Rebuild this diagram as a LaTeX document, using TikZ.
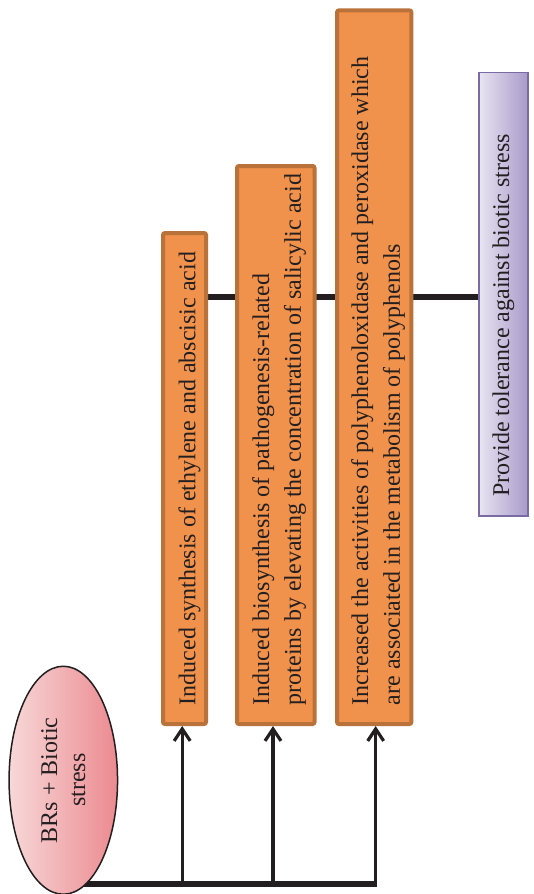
\documentclass[tikz,border=0pt]{standalone}
\usepackage{fontspec}
\setmainfont{Liberation Serif}
\usepackage{graphicx}
\usetikzlibrary{arrows.meta,shapes.geometric,backgrounds}

\definecolor{boxfill}{HTML}{F0924C}
\definecolor{boxedge}{HTML}{B8723A}
\definecolor{ink}{HTML}{231F20}
\definecolor{pinkL}{HTML}{F7D8D8}
\definecolor{pinkR}{HTML}{EC8A90}
\definecolor{lilacL}{HTML}{E8E4F1}
\definecolor{lilacR}{HTML}{A99ACA}
\definecolor{lilacEdge}{HTML}{7A6BA5}

% rotated, left-aligned text block: offset, line length, text
\newcommand{\uptext}[3]{\hspace{#1}\rotatebox{90}{\parbox{#2}{\raggedright #3}}}

\tikzset{
  effect/.style={draw=boxedge, line width=4pt, fill=boxfill, rounded corners=2pt,
    inner sep=0pt, font=\fontsize{24}{31.7}\selectfont, text=ink},
  outcome/.style={draw=lilacEdge, line width=1.6pt, left color=lilacL, right color=lilacR,
    inner xsep=13.4pt, inner ysep=0pt, font=\fontsize{24}{31.7}\selectfont, text=ink},
  cause/.style={ellipse, draw=ink, line width=1.5pt, left color=pinkL, right color=pinkR,
    inner sep=0pt, font=\fontsize{24}{28}\selectfont, text=ink},
  trunk/.style={draw=ink, line width=5.6pt},
  bar/.style={draw=ink, line width=5.8pt},
  branch/.style={draw=ink, line width=3.2pt, -{Straight Barb[length=12pt,width=16pt]}},
}

\begin{document}
\begin{tikzpicture}[x=1pt,y=1pt]
\useasboundingbox (0,0) rectangle (533,-894);
\clip (0,0) rectangle (533,-894);

% source of the stress response
\node[cause, minimum width=108.5pt, minimum height=228pt] (src) at (63.3,-780.25)
  {\rotatebox{90}{\parbox{130pt}{\centering BRs + Biotic\\stress}}};

% responses
\node[effect, minimum width=43pt, minimum height=491pt] (b1) at (184.5,-478.5)
  {\uptext{10.2pt}{453pt}{\mbox{Induced synthesis of ethylene and abscisic acid}}};
\node[effect, minimum width=77.5pt, minimum height=558pt] (b2) at (275.75,-445)
  {\uptext{6.6pt}{520pt}{\mbox{Induced biosynthesis of pathogenesis-related}\\\mbox{proteins by elevating the concentration of salicylic acid}}};
\node[effect, minimum width=74.3pt, minimum height=713.7pt] (b3) at (374.2,-367.2)
  {\uptext{7.7pt}{675.6pt}{\mbox{Increased the activities of polyphenoloxidase and peroxidase which}\\\mbox{are associated in the metabolism of polyphenols}}};

% result
\node[outcome, anchor=west, minimum height=443.4pt] (tol) at (478.3,-294.2)
  {\rotatebox{90}{\parbox{405pt}{\raggedright\mbox{Provide tolerance against biotic stress}}}\hspace{40pt}};

% branching points on the trunk and the level of the linking bar
\coordinate (a1) at (182.2,-884.2);
\coordinate (a2) at (273,-884.2);
\coordinate (a3) at (375.7,-884.2);
\coordinate (lv) at (0,-297.2);

\begin{pgfonlayer}{background}
  \draw[trunk] (src.center |- a3) -- (a3);
  \draw[bar] (b1.center |- lv) -- (b2.center |- lv);
  \draw[bar] (b2.center |- lv) -- (b3.center |- lv);
  \draw[bar] (b3.center |- lv) -- (tol.center |- lv);
\end{pgfonlayer}

\draw[branch] (a1) -- (a1 |- b1.south);
\draw[branch] (a2) -- (a2 |- b2.south);
\draw[branch] ([yshift=-2.8pt]a3) -- (a3 |- b3.south);
\end{tikzpicture}
\end{document}
